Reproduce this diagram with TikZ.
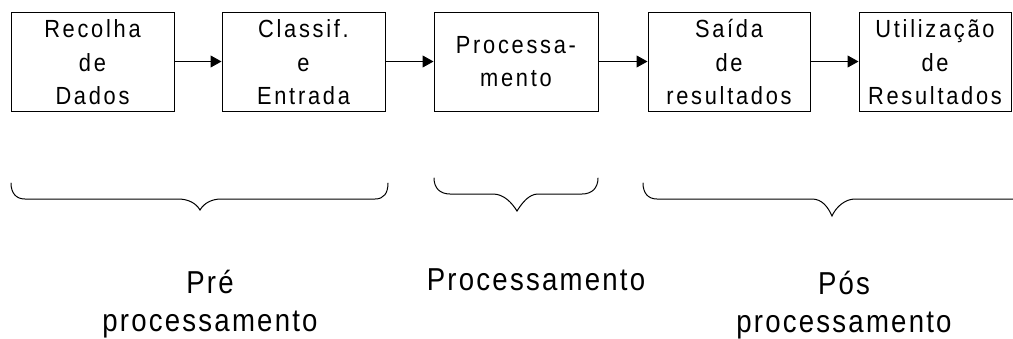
\documentclass[tikz,border=0pt]{standalone}
\usepackage{fontspec}
\setmainfont{Liberation Sans}
\newfontfamily\boxfontfam[FakeStretch=0.88,LetterSpace=11]{Liberation Sans}
\newfontfamily\labfontfam[FakeStretch=0.87,LetterSpace=7]{Liberation Sans}
\usetikzlibrary{arrows.meta}
\tikzset{
  stagebox/.style={draw=black, line width=1pt, minimum width=163pt, minimum height=99pt, inner sep=0pt},
  boxtext/.style={align=center, inner sep=0pt, font=\boxfontfam\fontsize{24.8}{33.5}\selectfont},
  labtext/.style={align=center, inner sep=0pt, font=\labfontfam\fontsize{31.7}{38}\selectfont},
  flow/.style={line width=1pt, -{Triangle[length=11pt,width=12pt]}},
  bracepath/.style={line width=1pt, line cap=round}
}
\begin{document}
\begin{tikzpicture}[x=1pt,y=-1pt]
\useasboundingbox (0,0) rectangle (1013,338);
% boxes
\node[stagebox] (b1) at (92.5,61.5) {};
\node[stagebox] (b2) at (303.5,61.5) {};
\node[stagebox, minimum width=164pt] (b3) at (516,61.5) {};
\node[stagebox, minimum width=162pt] (b4) at (729,61.5) {};
\node[stagebox, minimum width=152pt] (b5) at (935,61.5) {};
% box texts
\node[boxtext] (t1) at ([yshift=-2.8pt]b1.center) {\strut Recolha\\\strut de\\\strut Dados};
\node[boxtext] (t2) at ([yshift=-2.8pt]b2.center) {\strut Classif.\\\strut e\\\strut Entrada};
\node[boxtext] (t3) at ([yshift=-2pt]b3.center) {\strut Processa-\\\strut mento};
\node[boxtext] (t4) at ([yshift=-2.8pt]b4.center) {\strut Saída\\\strut de\\\strut resultados};
\node[boxtext] (t5) at ([yshift=-2.8pt]b5.center) {\strut Utilização\\\strut de\\\strut Resultados};
% arrows
\draw[flow] (b1) -- (b2);
\draw[flow] (b2) -- (b3);
\draw[flow] (b3) -- (b4);
\draw[flow] (b4) -- (b5);
% braces
\draw[bracepath] (11,183) .. controls (11,193) and (16,199) .. (25,199) -- (178,199)
  .. controls (188,199) and (196,203) .. (200,210)
  .. controls (204,203) and (212,199) .. (221,199) -- (375,199)
  .. controls (384,199) and (388,193) .. (388,183);
\draw[bracepath] (434,178) .. controls (434,188) and (440,194) .. (450,194) -- (493,194)
  .. controls (504,194) and (512,203) .. (517,211)
  .. controls (522,203) and (529,194) .. (538,194) -- (582,194)
  .. controls (592,194) and (598,188) .. (598,178);
\draw[bracepath] (643,183) .. controls (643,193) and (648,199) .. (657,199) -- (812,199)
  .. controls (822,199) and (828,207) .. (832,216)
  .. controls (836,207) and (845,199) .. (855,199) -- (1013,199);
% labels
\node[labtext] (l1) at (210,304.4) {\strut Pré\\\strut processamento};
\node[labtext] (l2) at (536,279.5) {Processamento};
\node[labtext] (l3) at (844,305.5) {\strut Pós\\\strut processamento};
\end{tikzpicture}
\end{document}
